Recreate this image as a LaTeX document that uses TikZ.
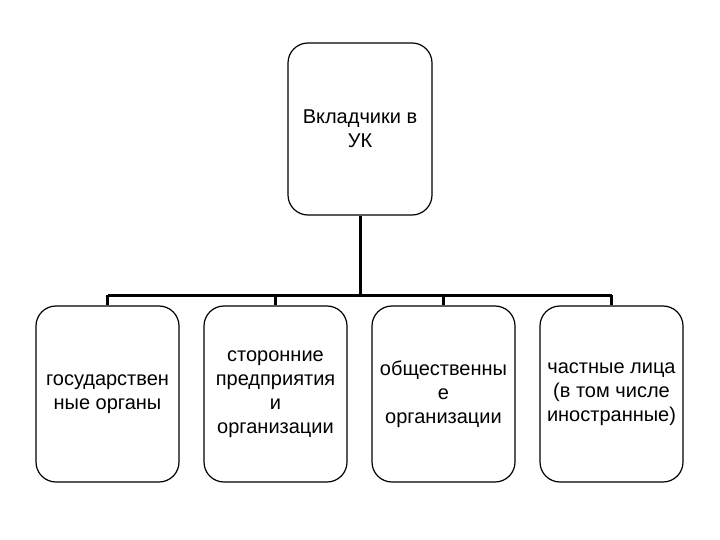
\documentclass[tikz,border=0pt]{standalone}
\usepackage{fontspec}
\setmainfont{Liberation Sans}
\begin{document}
\begin{tikzpicture}[x=1bp,y=-1bp,
  boxnode/.style={draw=black, line width=1.2bp, rounded corners=20bp, minimum width=143bp, minimum height=176bp, align=center, inner sep=0pt, font=\fontsize{20bp}{24bp}\selectfont},
  conn/.style={draw=black, line width=3bp}]
\useasboundingbox (0,0) rectangle (720,540);
\node[boxnode, minimum width=144bp, minimum height=172bp] (top) at (360,129) {Вкладчики в\\УК};
\node[boxnode] (b1) at (107.5,394) {государствен\\ные органы};
\node[boxnode] (b2) at (275.5,394) {сторонние\\предприятия\\и\\организации};
\node[boxnode] (b3) at (443.5,394) {общественны\\е\\организации};
\node[boxnode] (b4) at (611.5,394) {частные лица\\(в том числе\\иностранные)};
\coordinate (bus) at (360,295);
\draw[conn] (top.south) -- (bus);
\draw[conn] (b1.north |- bus) -- (b4.north |- bus);
\foreach \b in {b1,b2,b3,b4} \draw[conn] (\b.north |- bus) -- (\b.north);
\end{tikzpicture}
\end{document}
